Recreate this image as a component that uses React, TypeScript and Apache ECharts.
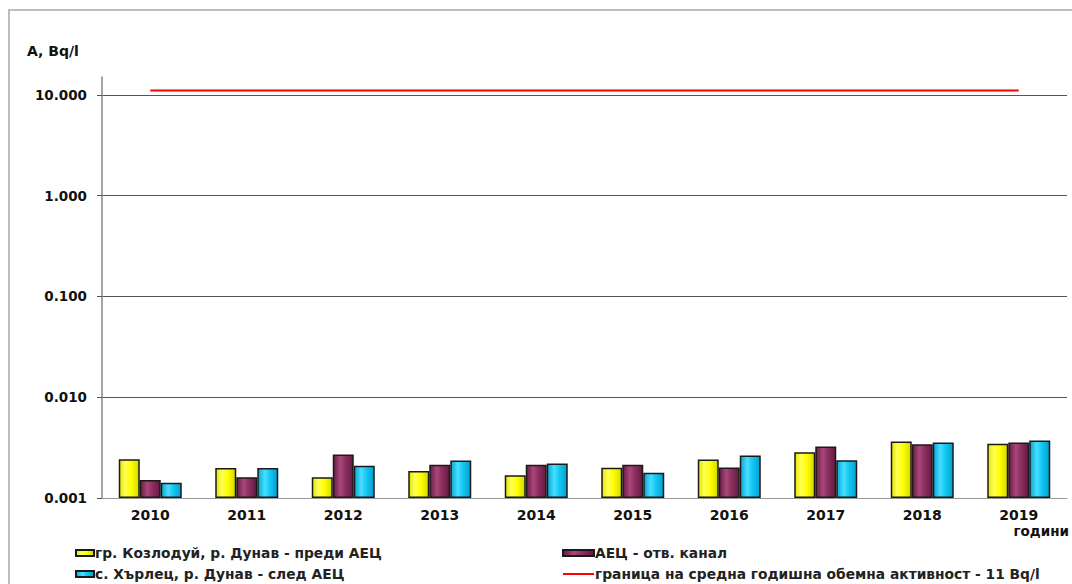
import React, { useEffect, useRef } from "react";
import * as echarts from "echarts";

const years = ["2010", "2011", "2012", "2013", "2014", "2015", "2016", "2017", "2018", "2019"];
const kozloduy = [0.00242, 0.00198, 0.00161, 0.00185, 0.00168, 0.002, 0.00241, 0.00285, 0.00364, 0.00345];
const channel = [0.00151, 0.00161, 0.0027, 0.00214, 0.00214, 0.00214, 0.00201, 0.00324, 0.00342, 0.00356];
const harlets = [0.00142, 0.00198, 0.00209, 0.00236, 0.0022, 0.00178, 0.00264, 0.00237, 0.00356, 0.00372];
const limitValue = 11;
const yTickLabels = ["0.001", "0.010", "0.100", "1.000", "10.000"];

const names = [
  "гр. Козлодуй, р. Дунав - преди АЕЦ",
  "АЕЦ - отв. канал",
  "с. Хърлец, р. Дунав - след АЕЦ",
  "граница на средна годишна обемна активност - 11 Bq/l",
];

const FONT = "'DejaVu Sans', 'Liberation Sans', Arial, sans-serif";

function grad(stops: [number, string][]) {
  return new echarts.graphic.LinearGradient(
    0, 0, 1, 0,
    stops.map(([offset, color]) => ({ offset, color }))
  );
}

export default function App() {
  const ref = useRef<HTMLDivElement>(null);
  useEffect(() => {
    if (!ref.current) return;
    const chart = echarts.init(ref.current, null, { renderer: "svg" });
    const yellow = grad([[0, "#e4e400"], [0.3, "#ffff55"], [0.6, "#ffff00"], [1, "#d6d600"]]);
    const purple = grad([[0, "#6a1c44"], [0.35, "#a8487a"], [0.6, "#8c3060"], [1, "#661a40"]]);
    const cyan = grad([[0, "#08a6d6"], [0.35, "#48deff"], [0.6, "#12c8f4"], [1, "#089ecc"]]);
    const barCommon = {
      type: "bar" as const,
      barWidth: 21,
      barGap: "0%",
    };
    const legendText = {
      fontFamily: FONT,
      fontSize: 13.8,
      fontWeight: "bold",
      color: "#222",
      padding: [0, 0, 0, -4],
    };
    chart.setOption({
      animation: false,
      backgroundColor: "#ffffff",
      textStyle: { fontFamily: FONT },
      title: {
        text: "A, Bq/l",
        left: 22,
        top: 39,
        textStyle: { fontFamily: FONT, fontSize: 14, fontWeight: "bold", color: "#111" },
      },
      grid: { left: 102, right: 5, top: 77, bottom: 86, containLabel: false },
      xAxis: {
        type: "category",
        data: years,
        axisLine: { lineStyle: { color: "#999", width: 1 } },
        axisTick: { show: false },
        axisLabel: {
          margin: 10,
          fontFamily: FONT,
          fontSize: 14,
          fontWeight: "bold",
          color: "#111",
        },
      },
      yAxis: {
        type: "log",
        logBase: 10,
        min: 0.001,
        max: 15,
        startValue: 0.001,
        axisLine: { show: true, lineStyle: { color: "#888", width: 1.5 } },
        axisTick: { show: true, length: 5, lineStyle: { color: "#555" } },
        splitLine: { show: true, showMaxLine: false, lineStyle: { color: "#555", width: 1 } },
        axisLabel: {
          showMaxLabel: false,
          margin: 15,
          fontFamily: FONT,
          fontSize: 13.5,
          fontWeight: "bold",
          color: "#111",
          formatter: (v: number) => {
            const idx = Math.round(Math.log10(v)) + 3;
            return yTickLabels[idx] ?? "";
          },
        },
      },
      legend: [
        {
          orient: "vertical",
          left: 75,
          top: 546,
          padding: 0,
          icon: "rect",
          itemWidth: 18,
          itemHeight: 6,
          itemGap: 7,
          data: [names[0], names[2]],
          textStyle: legendText,
        },
        {
          orient: "vertical",
          left: 562,
          top: 546,
          padding: 0,
          itemWidth: 31,
          itemHeight: 6,
          itemGap: 7,
          data: [
            { name: names[1], icon: "rect" },
            { name: names[3], icon: "path://M0,0H31V2H0Z", itemStyle: { color: "#ff0000" } },
          ],
          textStyle: legendText,
        },
      ],
      series: [
        {
          ...barCommon,
          name: names[0],
          data: kozloduy,
          itemStyle: { color: yellow, borderColor: "#1a1a1a", borderWidth: 1.5 },
        },
        {
          ...barCommon,
          name: names[1],
          data: channel,
          itemStyle: { color: purple, borderColor: "#1a1a1a", borderWidth: 1.5 },
        },
        {
          ...barCommon,
          name: names[2],
          data: harlets,
          itemStyle: { color: cyan, borderColor: "#1a1a1a", borderWidth: 1.5 },
        },
        {
          type: "line",
          name: names[3],
          data: years.map(() => limitValue),
          symbol: "none",
          color: "#ff0000",
          lineStyle: { color: "#ff0000", width: 2 },
          itemStyle: { color: "#ff0000" },
        },
      ],
      graphic: [
        {
          type: "rect",
          shape: { x: 9, y: 10, width: 1100, height: 620 },
          style: { fill: "none", stroke: "#bdbdbd", lineWidth: 2 },
          silent: true,
          z: -1,
        },
        {
          type: "text",
          right: 3,
          top: 524,
          style: {
            text: "години",
            font: `bold 13.5px ${FONT}`,
            fill: "#111",
          },
        },
      ],
    });
    return () => chart.dispose();
  }, []);
  return (
    <div
      ref={ref}
      style={{ position: "absolute", left: 0, top: 0, width: 1072, height: 584 }}
    />
  );
}
